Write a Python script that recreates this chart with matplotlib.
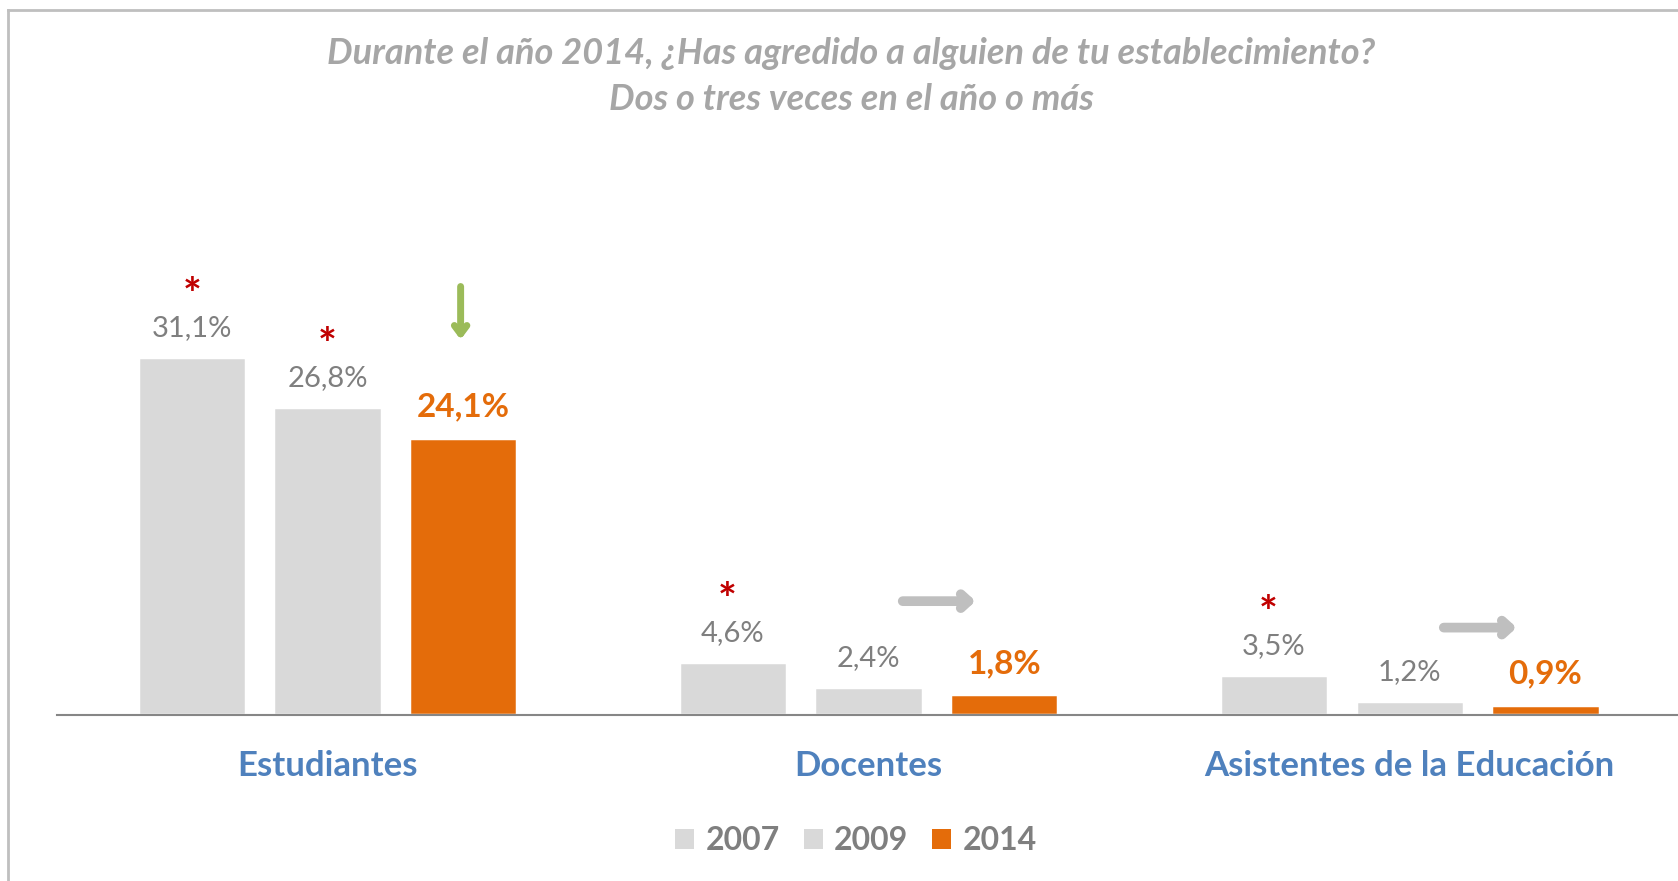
#!/usr/bin/env python3
"""Barras agrupadas: agresiones reportadas 2007 / 2009 / 2014."""

import matplotlib

matplotlib.use("Agg")
import matplotlib.pyplot as plt
import numpy as np
from matplotlib.lines import Line2D
from matplotlib.patches import Patch

plt.rcParams["font.family"] = ["Lato", "DejaVu Sans"]

# datos
categorias = ["Estudiantes", "Docentes", "Asistentes de la Educación"]
anios = ["2007", "2009", "2014"]
v2007 = [31.1, 4.6, 3.5]
v2009 = [26.8, 2.4, 1.2]
v2014 = [24.1, 1.8, 0.9]
# diferencia significativa respecto a 2014 (asterisco rojo)
sig2007 = [True, True, True]
sig2009 = [True, False, False]
# tendencia: "baja" = flecha verde hacia abajo, "igual" = flecha gris
tendencia = ["baja", "igual", "igual"]

GRIS = "#D9D9D9"
NARANJA = "#E46C0A"
TXT = "#7F7F7F"
AZUL = "#4F81BD"
ROJO = "#C00000"

W, H = 1678, 881
fig = plt.figure(figsize=(W / 100, H / 100), dpi=100)

base_px = 715
px_por_pct = 11.5
ymax = 35
ax = fig.add_axes([57 / W, (H - base_px) / H, (W - 57) / W, ymax * px_por_pct / H])
ax.set_xlim(-0.5, 2.496)
ax.set_ylim(0, ymax)
for s in ["left", "right", "top"]:
    ax.spines[s].set_visible(False)
ax.spines["bottom"].set_color("#868686")
ax.spines["bottom"].set_linewidth(1.5)
ax.set_xticks([])
ax.set_yticks([])
ax.patch.set_alpha(0)

x = np.arange(len(categorias))
paso, ancho = 0.251, 0.2
series = [(v2007, GRIS), (v2009, GRIS), (v2014, NARANJA)]

for i, (vals, color) in enumerate(series):
    xs = x + (i - 1) * paso
    ax.bar(xs, vals, width=ancho, color=color, edgecolor="white", linewidth=2.5)
    destacado = i == 2
    for xi, v in zip(xs, vals):
        ax.annotate(
            f"{v:.1f}".replace(".", ",") + "%",
            (xi, v),
            xytext=(0, 22 if destacado else 21),
            textcoords="offset points",
            ha="center",
            va="center",
            fontsize=24 if destacado else 21,
            fontweight="bold" if destacado else "normal",
            color=NARANJA if destacado else TXT,
            annotation_clip=False,
        )

# asteriscos de significancia
for i, sig in [(0, sig2007), (1, sig2009)]:
    vals = series[i][0]
    for k, s in enumerate(sig):
        if s:
            ax.annotate(
                "*",
                (x[k] + (i - 1) * paso, vals[k]),
                xytext=(-4 if k else 0, 44),
                textcoords="offset points",
                ha="center",
                va="center",
                fontsize=32,
                fontweight="bold",
                color=ROJO,
                annotation_clip=False,
            )

# flechas de tendencia
for k, t in enumerate(tendencia):
    xc = x[k] + paso
    if t == "baja":
        ax.annotate(
            "",
            xy=(xc - 0.005, v2014[k] + 8.3),
            xytext=(xc - 0.005, v2014[k] + 13.4),
            arrowprops=dict(arrowstyle="->,head_length=0.6,head_width=0.45",
                            lw=5, color="#9BBB59"),
            annotation_clip=False,
        )
    else:
        y = 9.9 if k == 1 else 7.6
        ax.annotate(
            "",
            xy=(x[k] + 0.203, y),
            xytext=(x[k] + 0.058, y),
            arrowprops=dict(arrowstyle="->,head_length=0.55,head_width=0.5",
                            lw=7, color="#BFBFBF"),
            annotation_clip=False,
        )

# etiquetas de categoria
for k, c in enumerate(categorias):
    ax.annotate(
        c,
        (x[k], 0),
        xytext=(0, -37),
        textcoords="offset points",
        ha="center",
        va="center",
        fontsize=25,
        fontweight="bold",
        color=AZUL,
        annotation_clip=False,
    )

# titulo
titulo_kw = dict(ha="center", va="center", fontsize=26, fontweight="bold",
                 fontstyle="italic", color="#A6A6A6")
fig.text(851 / W, 1 - 54 / H,
         "Durante el año 2014, ¿Has agredido a alguien de tu establecimiento?",
         **titulo_kw)
fig.text(851 / W, 1 - 100 / H, "Dos o tres veces en el año o más", **titulo_kw)

# leyenda
handles = [Patch(facecolor=c, edgecolor="none") for _, c in series]
fig.legend(handles, anios, loc="center", bbox_to_anchor=(856 / W, 1 - 841 / H),
           ncol=3, frameon=False, handlelength=0.6, handleheight=0.6,
           handletextpad=0.35, columnspacing=0.75,
           prop={"size": 23, "weight": "bold"}, labelcolor=TXT)

# marco del grafico
fig.add_artist(Line2D([8 / W, 8 / W], [0, 1 - 10 / H], color="#BFBFBF", lw=2))
fig.add_artist(Line2D([8 / W, 1], [1 - 10 / H, 1 - 10 / H], color="#BFBFBF", lw=2))

fig.savefig("out.png", dpi=100)
